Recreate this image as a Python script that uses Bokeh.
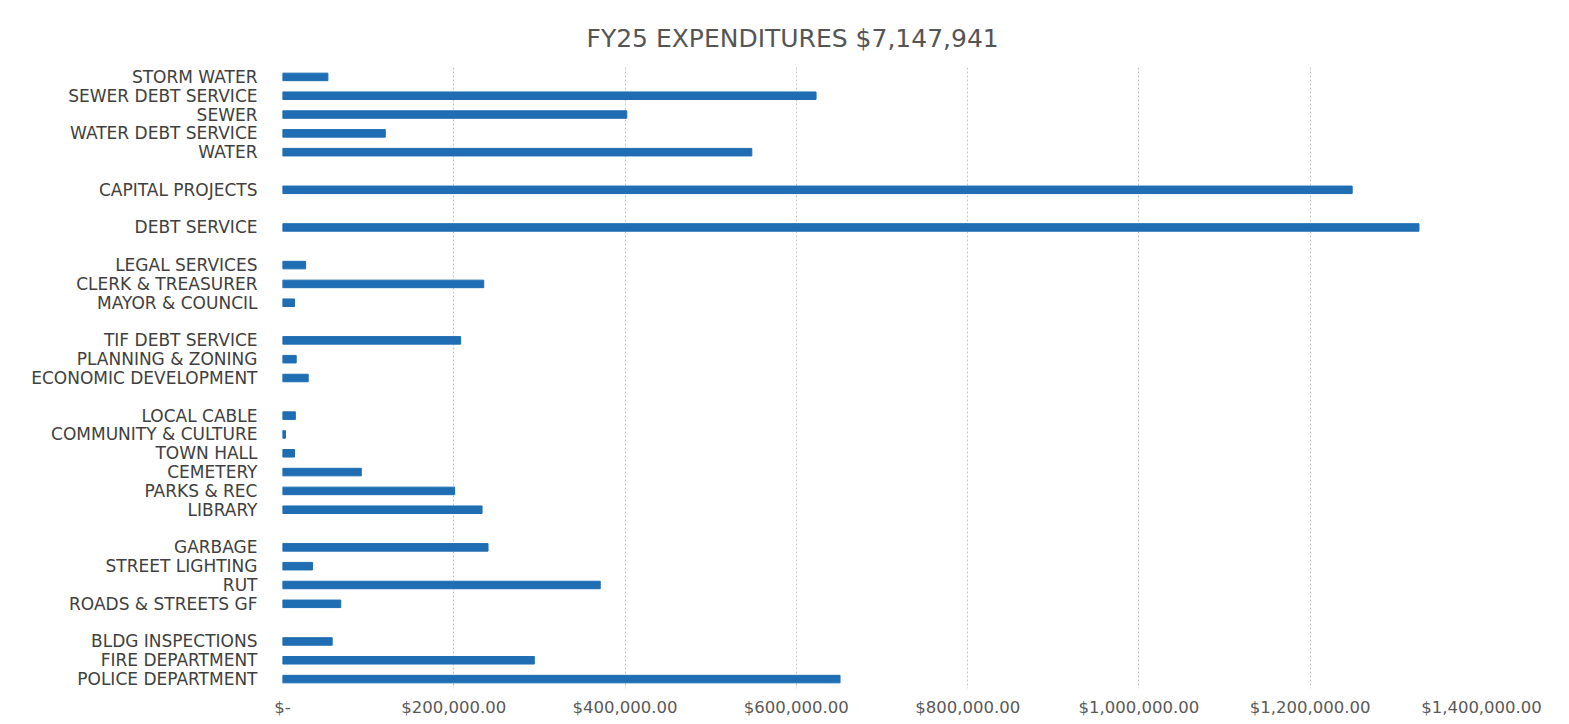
from bokeh.plotting import figure
from bokeh.models import Range1d, FixedTicker, CustomJSTickFormatter, ColumnDataSource
from bokeh.embed import file_html
from bokeh.resources import INLINE

# Categories top-to-bottom; "" marks a blank gap row
categories = [
    "STORM WATER", "SEWER DEBT SERVICE", "SEWER", "WATER DEBT SERVICE", "WATER",
    "",
    "CAPITAL PROJECTS",
    "",
    "DEBT SERVICE",
    "",
    "LEGAL SERVICES", "CLERK & TREASURER", "MAYOR & COUNCIL",
    "",
    "TIF DEBT SERVICE", "PLANNING & ZONING", "ECONOMIC DEVELOPMENT",
    "",
    "LOCAL CABLE", "COMMUNITY & CULTURE", "TOWN HALL", "CEMETERY", "PARKS & REC", "LIBRARY",
    "",
    "GARBAGE", "STREET LIGHTING", "RUT", "ROADS & STREETS GF",
    "",
    "BLDG INSPECTIONS", "FIRE DEPARTMENT", "POLICE DEPARTMENT",
]
values = [
    53000, 623000, 402000, 120000, 548000,
    0,
    1249000,
    0,
    1327000,
    0,
    27000, 235000, 14000,
    0,
    208000, 16000, 30000,
    0,
    15000, 3500, 14000, 92000, 201000, 233000,
    0,
    240000, 35000, 371000, 68000,
    0,
    58000, 294000, 651000,
]
x_ticks = [0, 200000, 400000, 600000, 800000, 1000000, 1200000, 1400000]
title_text = "FY25 EXPENDITURES $7,147,941"

n = len(categories)
ys = [i for i, c in enumerate(categories) if c]
vals = [v for c, v in zip(categories, values) if c]
labels = [c for c in categories if c]

src = ColumnDataSource(dict(y=ys, right=vals))

FONT = "DejaVu Sans"

p = figure(width=1569, height=724, output_backend="svg", toolbar_location=None,
           x_range=Range1d(0, x_ticks[-1]), y_range=Range1d(n - 0.5, -0.5),
           min_border_left=282, min_border_right=88, min_border_top=67, min_border_bottom=36)
p.title.text = title_text
p.title.align = "left"
p.title.offset = 304
p.title.text_font = FONT
p.title.text_font_size = "25px"
p.title.text_font_style = "normal"
p.title.text_color = "#555555"
p.title.standoff = 30

p.hbar(y="y", left=0, right="right", height=0.4, source=src, color="#1f6db3")

p.outline_line_color = None
p.background_fill_color = "white"
p.border_fill_color = "white"

p.ygrid.grid_line_color = None
p.xgrid.ticker = FixedTicker(ticks=x_ticks)
p.xgrid.grid_line_color = "#c4c4c4"
p.xgrid.grid_line_dash = "2 2"

p.xaxis.ticker = FixedTicker(ticks=x_ticks)
p.xaxis.formatter = CustomJSTickFormatter(code="""
    if (tick == 0) { return "$-"; }
    return "$" + tick.toLocaleString("en-US", {minimumFractionDigits: 2, maximumFractionDigits: 2});
""")
p.xaxis.axis_line_color = None
p.xaxis.major_tick_line_color = None
p.xaxis.minor_tick_line_color = None
p.xaxis.major_label_text_font = FONT
p.xaxis.major_label_text_font_size = "16.5px"
p.xaxis.major_label_text_color = "#595959"
p.xaxis.major_label_standoff = 3

p.yaxis.ticker = FixedTicker(ticks=ys)
p.yaxis.major_label_overrides = {y: l for y, l in zip(ys, labels)}
p.yaxis.axis_line_color = None
p.yaxis.major_tick_line_color = None
p.yaxis.minor_tick_line_color = None
p.yaxis.major_label_text_font = FONT
p.yaxis.major_label_text_font_size = "17px"
p.yaxis.major_label_text_color = "#404040"
p.yaxis.major_label_standoff = 19

open("out.html", "w").write(file_html(p, INLINE))
